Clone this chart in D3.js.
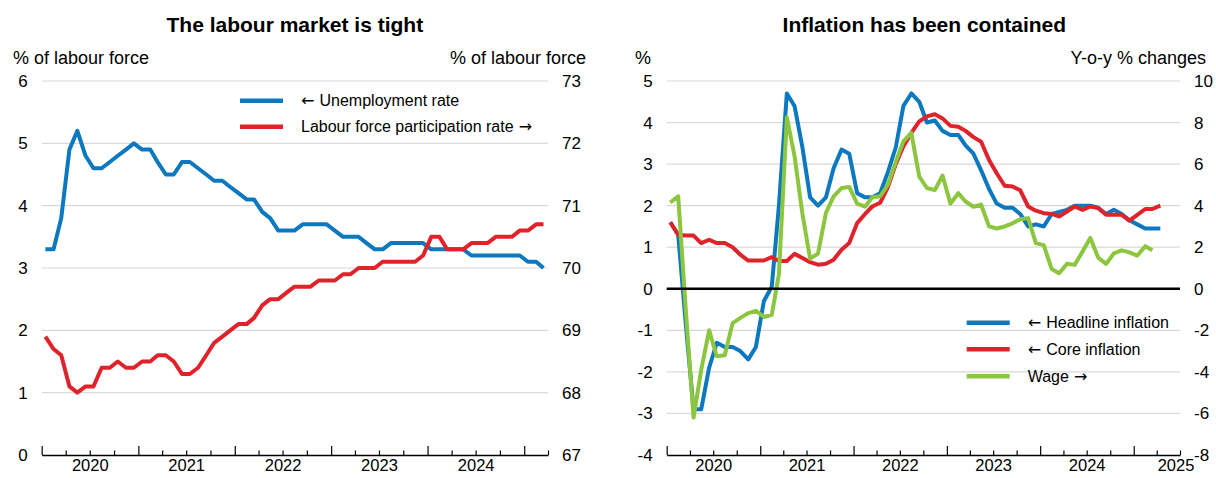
<!DOCTYPE html>
<html>
<head>
<meta charset="utf-8">
<script src="https://cdn.jsdelivr.net/npm/d3@7"></script>
<style>
  html, body { margin: 0; padding: 0; background: #fff; }
  svg { display: block; font-family: "Liberation Sans", Arial, sans-serif; }
</style>
</head>
<body>
<svg id="chart" width="1216" height="478"></svg>
<script>
// Monthly observations, first month January 2020
const firstYear = 2020;

// Left panel: labour market
const unemployment = [
  3.3, 3.3, 3.8, 4.9, 5.2, 4.8, 4.6, 4.6, 4.7, 4.8, 4.9, 5.0,
  4.9, 4.9, 4.7, 4.5, 4.5, 4.7, 4.7, 4.6, 4.5, 4.4, 4.4, 4.3,
  4.2, 4.1, 4.1, 3.9, 3.8, 3.6, 3.6, 3.6, 3.7, 3.7, 3.7, 3.7,
  3.6, 3.5, 3.5, 3.5, 3.4, 3.3, 3.3, 3.4, 3.4, 3.4, 3.4, 3.4,
  3.3, 3.3, 3.3, 3.3, 3.3, 3.2, 3.2, 3.2, 3.2, 3.2, 3.2, 3.2,
  3.1, 3.1, 3.0
];
const participation = [
  68.9, 68.7, 68.6, 68.1, 68.0, 68.1, 68.1, 68.4, 68.4, 68.5, 68.4, 68.4,
  68.5, 68.5, 68.6, 68.6, 68.5, 68.3, 68.3, 68.4, 68.6, 68.8, 68.9, 69.0,
  69.1, 69.1, 69.2, 69.4, 69.5, 69.5, 69.6, 69.7, 69.7, 69.7, 69.8, 69.8,
  69.8, 69.9, 69.9, 70.0, 70.0, 70.0, 70.1, 70.1, 70.1, 70.1, 70.1, 70.2,
  70.5, 70.5, 70.3, 70.3, 70.3, 70.4, 70.4, 70.4, 70.5, 70.5, 70.5, 70.6,
  70.6, 70.7, 70.7
];

// Right panel: prices and wages
const headline = [
  1.6, 1.3, -0.8, -2.9, -2.9, -1.9, -1.3, -1.4, -1.4, -1.5, -1.7, -1.4,
  -0.3, 0.05, 2.0, 4.7, 4.4, 3.4, 2.2, 2.0, 2.2, 2.9, 3.35, 3.25,
  2.3, 2.2, 2.2, 2.3, 2.8, 3.4, 4.4, 4.7, 4.5, 4.0, 4.05, 3.8,
  3.7, 3.7, 3.45, 3.25, 2.85, 2.4, 2.05, 1.95, 1.95, 1.8, 1.5, 1.55,
  1.5, 1.8, 1.85, 1.9, 2.0, 2.0, 2.0, 1.95, 1.8, 1.9, 1.8, 1.65,
  1.55, 1.45, 1.45, 1.45
];
const core = [
  1.6, 1.3, 1.28, 1.28, 1.1, 1.18, 1.1, 1.1, 1.0, 0.82, 0.68, 0.68,
  0.68, 0.76, 0.67, 0.67, 0.84, 0.74, 0.64, 0.58, 0.6, 0.7, 0.94, 1.1,
  1.58, 1.8, 1.98, 2.07, 2.44, 3.0, 3.43, 3.75, 4.03, 4.15, 4.2, 4.1,
  3.92, 3.9, 3.8, 3.65, 3.54, 3.1, 2.78, 2.48, 2.46, 2.37, 1.98, 1.88,
  1.82, 1.8, 1.74, 1.86, 1.98, 1.9, 1.98, 1.94, 1.78, 1.78, 1.78, 1.64,
  1.78, 1.92, 1.92, 2.0
];
const wage = [
  4.15, 4.45, -0.9, -6.2, -3.9, -2.0, -3.25, -3.2, -1.65, -1.4, -1.17, -1.06,
  -1.36, -1.25, 0.7, 8.25, 6.4, 3.6, 1.45, 1.7, 3.65, 4.45, 4.85, 4.9,
  4.1, 3.95, 4.4, 4.45, 5.0, 6.1, 7.1, 7.5, 5.4, 4.85, 4.75, 5.45,
  4.1, 4.6, 4.2, 3.95, 4.05, 3.0, 2.9, 3.0, 3.15, 3.35, 3.4, 2.2,
  2.1, 0.95, 0.75, 1.2, 1.15, 1.8, 2.45, 1.5, 1.2, 1.7, 1.85, 1.75,
  1.6, 2.05, 1.85
];

// Axis tick values and labels
const labourTicksLeft = [0, 1, 2, 3, 4, 5, 6];
const labourTicksRight = [67, 68, 69, 70, 71, 72, 73];
const inflationTicks = [-4, -3, -2, -1, 0, 1, 2, 3, 4, 5];
const wageTicks = [-8, -6, -4, -2, 0, 2, 4, 6, 8, 10];
const labourYears = [2020, 2021, 2022, 2023, 2024];
const inflationYears = [2020, 2021, 2022, 2023, 2024, 2025];

const titles = ["The labour market is tight", "Inflation has been contained"];
const unitLabels = {
  labourLeft: "% of labour force", labourRight: "% of labour force",
  inflLeft: "%", inflRight: "Y-o-y % changes"
};
// legend entries: [arrow before, text, arrow after]
const labourLegend = [["\u2190", "Unemployment rate", ""], ["", "Labour force participation rate", "\u2192"]];
const inflationLegend = [["\u2190", "Headline inflation", ""], ["\u2190", "Core inflation", ""], ["", "Wage", "\u2192"]];

const BLUE = "#0b78bf", RED = "#e0232b", GREEN = "#8cc63f", GRID = "#d9d9d9";
const FONT = "Liberation Sans, Arial, sans-serif";
const ARROW_FONT = "DejaVu Sans, Liberation Sans, sans-serif";

const svg = d3.select("#chart");
const monthDate = i => new Date(firstYear, i, 15);
const fmt = d => String(d);

function drawPanel(cfg) {
  const g = svg.append("g");
  const x = d3.scaleTime().domain(cfg.xDomain).range([cfg.x0, cfg.x1]);
  const yL = d3.scaleLinear().domain(cfg.yLeftDomain).range([cfg.yBottom, cfg.yTop]);
  const yR = d3.scaleLinear().domain(cfg.yRightDomain).range([cfg.yBottom, cfg.yTop]);

  // gridlines
  g.append("g")
    .selectAll("line")
    .data(cfg.leftTicks.filter(t => t !== cfg.leftTicks[0] && t !== cfg.zeroLine))
    .join("line")
    .attr("x1", cfg.x0).attr("x2", cfg.x1)
    .attr("y1", d => yL(d)).attr("y2", d => yL(d))
    .attr("stroke", GRID).attr("stroke-width", 1.2);

  // left labels
  const axL = g.append("g").attr("transform", `translate(${cfg.x0 - 14},0)`)
    .call(d3.axisLeft(yL).tickValues(cfg.leftTicks).tickSize(0).tickPadding(0).tickFormat(fmt));
  axL.select(".domain").remove();
  axL.selectAll("text").attr("font-size", 17).attr("fill", "#000").attr("font-family", FONT);

  // right labels
  const axR = g.append("g").attr("transform", `translate(${cfg.x1 + 14},0)`)
    .call(d3.axisRight(yR).tickValues(cfg.rightTicks).tickSize(0).tickPadding(0).tickFormat(fmt));
  axR.select(".domain").remove();
  axR.selectAll("text").attr("font-size", 17).attr("fill", "#000").attr("font-family", FONT);

  // series
  cfg.series.forEach(s => {
    const yS = s.axis === "right" ? yR : yL;
    const line = d3.line().x((d, i) => x(monthDate(i))).y(d => yS(d));
    g.append("path").datum(s.values)
      .attr("d", line).attr("fill", "none")
      .attr("stroke", s.color).attr("stroke-width", 4)
      .attr("stroke-linejoin", "round");
  });

  // zero line
  if (cfg.zeroLine !== undefined) {
    g.append("line").attr("x1", cfg.x0).attr("x2", cfg.x1)
      .attr("y1", yL(cfg.zeroLine)).attr("y2", yL(cfg.zeroLine))
      .attr("stroke", "#000").attr("stroke-width", 2.5);
  }

  // time axis: quarter ticks, taller at year starts
  const quarters = d3.timeMonth.every(3).range(cfg.xDomain[0], d3.timeDay.offset(cfg.xDomain[1], 1));
  const axQ = g.append("g").attr("transform", `translate(0,${cfg.yBottom})`)
    .call(d3.axisBottom(x).tickValues(quarters).tickSizeInner(-4.5).tickSizeOuter(0).tickFormat(""));
  axQ.select(".domain").attr("stroke", "#000").attr("stroke-width", 1.3);
  axQ.selectAll(".tick line").attr("stroke", "#000").attr("stroke-width", 1.2)
    .attr("y2", d => d.getMonth() === 0 ? -9 : -4.5);

  // year labels at mid-year; the last one may be nudged clear of the corner label
  const axY = g.append("g").attr("transform", `translate(0,${cfg.yBottom})`)
    .call(d3.axisBottom(x).tickValues(cfg.years.map(y => new Date(y, 6, 1)))
      .tickSize(0).tickPadding(4).tickFormat(d3.timeFormat("%Y")));
  axY.select(".domain").remove();
  axY.selectAll("text").attr("font-size", 16.5).attr("fill", "#000").attr("font-family", FONT)
    .attr("dx", (d, i, n) => (i === n.length - 1 ? (cfg.lastYearShift || 0) : 0));

  // title and unit labels
  g.append("text").attr("x", (cfg.x0 + cfg.x1) / 2 + cfg.titleShift).attr("y", 32)
    .attr("text-anchor", "middle").attr("font-size", 21).attr("font-weight", "bold")
    .text(cfg.title);
  g.append("text").attr("x", cfg.unitLeftX).attr("y", 64)
    .attr("font-size", 18).text(cfg.unitLeft);
  g.append("text").attr("x", cfg.unitRightX).attr("y", 64)
    .attr("text-anchor", "end").attr("font-size", 18).text(cfg.unitRight);

  // legend
  const lg = g.append("g");
  cfg.legend.forEach((item, k) => {
    const ly = cfg.legendY[k];
    lg.append("line").attr("x1", cfg.legendX).attr("x2", cfg.legendX + 43)
      .attr("y1", ly).attr("y2", ly).attr("stroke", item.color).attr("stroke-width", 4.5);
    const t = lg.append("text").attr("x", cfg.legendX + 61).attr("y", ly).attr("dy", "0.35em")
      .attr("font-size", 16);
    const [pre, body, post] = item.label;
    if (pre) t.append("tspan").attr("font-family", ARROW_FONT).text(pre + " ");
    t.append("tspan").text(body);
    if (post) t.append("tspan").attr("font-family", ARROW_FONT).text(" " + post);
  });
}

drawPanel({
  xDomain: [new Date(2020, 0, 1), new Date(2025, 3, 1)],
  x0: 41.7, x1: 548, yTop: 81, yBottom: 455,
  yLeftDomain: [0, 6], yRightDomain: [67, 73],
  leftTicks: labourTicksLeft, rightTicks: labourTicksRight,
  years: labourYears,
  series: [
    { values: unemployment, color: BLUE, axis: "left" },
    { values: participation, color: RED, axis: "right" }
  ],
  title: titles[0], titleShift: 0,
  unitLeft: unitLabels.labourLeft, unitLeftX: 13,
  unitRight: unitLabels.labourRight, unitRightX: 586,
  legend: [
    { label: labourLegend[0], color: BLUE },
    { label: labourLegend[1], color: RED }
  ],
  legendX: 240, legendY: [100.7, 126.7]
});

drawPanel({
  xDomain: [new Date(2020, 0, 1), new Date(2025, 6, 1)],
  x0: 666.7, x1: 1180, yTop: 81, yBottom: 455,
  yLeftDomain: [-4, 5], yRightDomain: [-8, 10],
  leftTicks: inflationTicks, rightTicks: wageTicks,
  years: inflationYears, zeroLine: 0, lastYearShift: -4.5,
  series: [
    { values: headline, color: BLUE, axis: "left" },
    { values: core, color: RED, axis: "left" },
    { values: wage, color: GREEN, axis: "right" }
  ],
  title: titles[1], titleShift: 1,
  unitLeft: unitLabels.inflLeft, unitLeftX: 635,
  unitRight: unitLabels.inflRight, unitRightX: 1206,
  legend: [
    { label: inflationLegend[0], color: BLUE },
    { label: inflationLegend[1], color: RED },
    { label: inflationLegend[2], color: GREEN }
  ],
  legendX: 966.7, legendY: [322.7, 349.3, 376.3]
});
</script>
</body>
</html>
